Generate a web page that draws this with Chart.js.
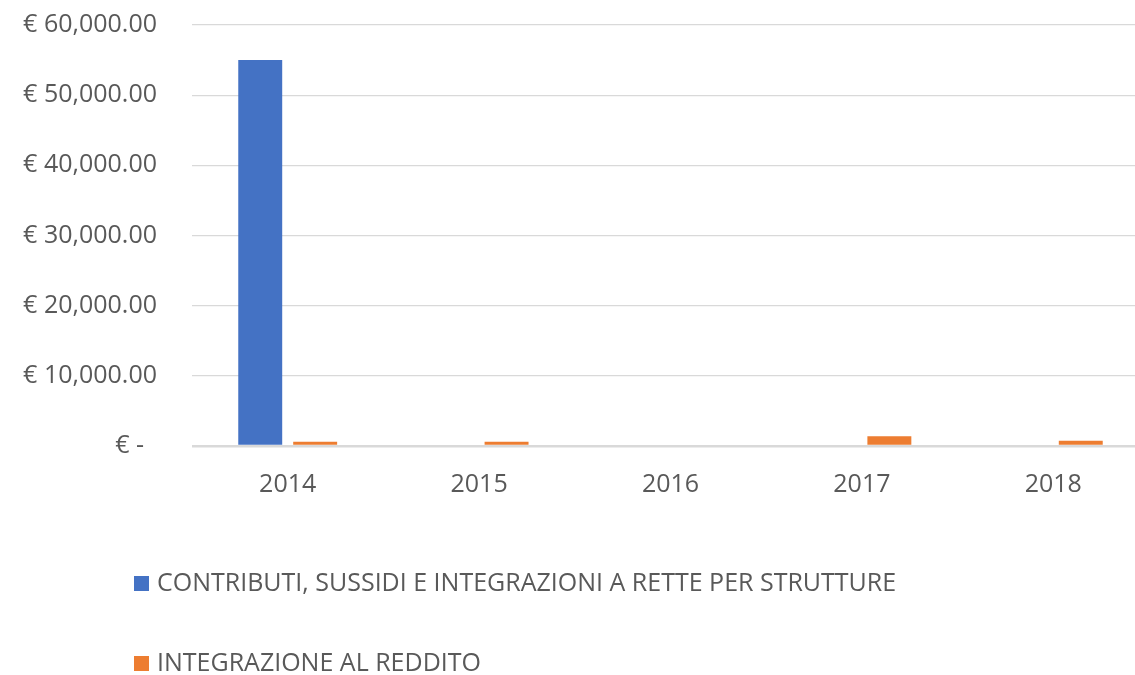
<!DOCTYPE html>
<html>
<head>
<meta charset="utf-8">
<script src="https://cdn.jsdelivr.net/npm/chart.js@4"></script>
<style>
  body { margin: 0; overflow: hidden; background: #fff; }
  #wrap { width: 1150px; height: 675px; }
</style>
</head>
<body>
<div id="wrap"><canvas id="myBarChart"></canvas></div>
<script>
// Bar Chart
const years = ['2014', '2015', '2016', '2017', '2018'];
const contributi = [55000, 0, 0, 0, 0];
const integrazione = [600, 600, 0, 1400, 750];
const yTicks = [0, 10000, 20000, 30000, 40000, 50000, 60000];

const textColor = '#595959';
const fontFamily = "'Open Sans', sans-serif";

function euro(v) {
    if (v === 0) return '€ -  ';
    return '€ ' + v.toLocaleString('en-US', { minimumFractionDigits: 2, maximumFractionDigits: 2 });
}

// draws the two legend rows under the chart, one item per line
const stackedLegend = {
    id: 'stackedLegend',
    afterDraw(chart) {
        const c = chart.ctx;
        const rows = [583, 663];
        c.save();
        c.font = '25px ' + fontFamily;
        c.textBaseline = 'middle';
        c.textAlign = 'left';
        chart.data.datasets.forEach((ds, i) => {
            c.fillStyle = ds.backgroundColor;
            c.fillRect(134, rows[i] - 7, 15, 15);
            c.fillStyle = textColor;
            c.fillText(ds.label, 157, rows[i] + 1);
        });
        c.restore();
    }
};

const ctx = document.getElementById('myBarChart').getContext('2d');
const myChart = new Chart(ctx, {
    type: 'bar',
    data: {
        labels: years,
        datasets: [{
            label: 'CONTRIBUTI, SUSSIDI E INTEGRAZIONI A RETTE PER STRUTTURE',
            data: contributi,
            backgroundColor: '#4472C4'
        }, {
            label: 'INTEGRAZIONE AL REDDITO',
            data: integrazione,
            backgroundColor: '#ED7D31'
        }]
    },
    plugins: [stackedLegend],
    options: {
        responsive: true,
        maintainAspectRatio: false,
        animation: false,
        layout: {
            padding: { left: 20, right: 1, top: 25, bottom: 159 }
        },
        barPercentage: 0.8,
        categoryPercentage: 0.574,
        plugins: {
            legend: { display: false },
            tooltip: { enabled: false }
        },
        scales: {
            x: {
                grid: { display: false },
                border: { display: false },
                ticks: {
                    color: textColor,
                    font: { family: fontFamily, size: 25 },
                    padding: 16
                }
            },
            y: {
                min: 0,
                max: 60000,
                afterBuildTicks(scale) {
                    scale.ticks = yTicks.map(v => ({ value: v }));
                },
                afterFit(scale) {
                    scale.width = 172;
                    scale.paddingTop = 0;
                    scale.paddingBottom = 0;
                },
                border: { display: false },
                grid: {
                    color: '#d9d9d9',
                    lineWidth: c => (c.tick && c.tick.value === 0 ? 2.5 : 1.3),
                    drawTicks: false
                },
                ticks: {
                    color: textColor,
                    font: { family: fontFamily, size: 25 },
                    padding: 35,
                    callback: v => euro(v)
                }
            }
        }
    }
});
</script>
</body>
</html>
